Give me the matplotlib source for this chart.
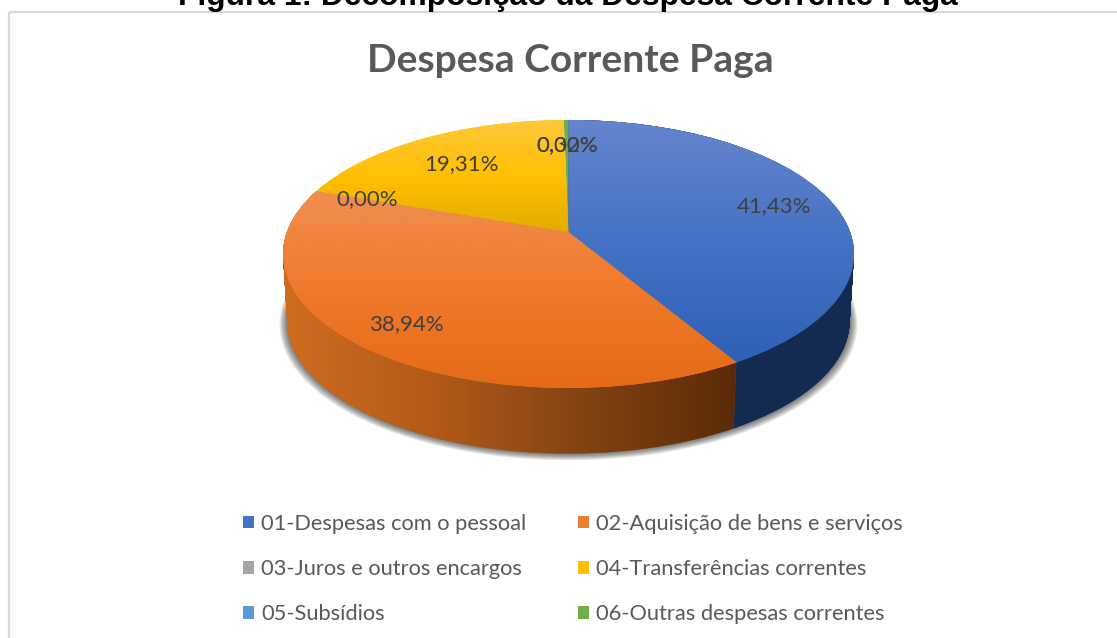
import numpy as np
import matplotlib
matplotlib.use('Agg')
import matplotlib.pyplot as plt
import matplotlib.transforms as mtransforms
from matplotlib.colors import LinearSegmentedColormap
from matplotlib.patches import Circle, Patch, PathPatch, Rectangle
from matplotlib.path import Path

# data
categories = ['01-Despesas com o pessoal', '02-Aquisição de bens e serviços',
              '03-Juros e outros encargos', '04-Transferências correntes',
              '05-Subsídios', '06-Outras despesas correntes']
values = [41.43, 38.94, 0.00, 19.31, 0.00, 0.32]
colors = ['#4472c4', '#ed7d31', '#a5a5a5', '#ffc000', '#5b9bd5', '#70ad47']

# where the percentages sit, in pixels
label_pos = [(774, 206), (406, 324), (367, 199), (461, 164), (567, 145), (567, 145)]

# vertical shading of the top face: (colours top to bottom, y range in pixels)
top_shades = {0: (['#6585cd', '#4472c4', '#2f60b6'], (120, 365)),
              1: (['#f08e52', '#f07a2a', '#e66a18'], (190, 388)),
              3: (['#ffc83c', '#ffc000', '#e4ac00'], (120, 232))}
# horizontal shading of the rim, left to right
side_shades = {0: ['#132a52', '#142b54'],
               1: ['#d06c20', '#b25a18', '#824212', '#5a2a08']}
side_base = {0: '#132a52', 1: '#a05416'}

# pie geometry in pixels
CX, CY = 568.5, 232
RX, RY = 281.6, 130.4
K = 0.164
DEPTH = 68
SHRINK = 0.985


class Tilt(mtransforms.Transform):
    # unit pie -> tilted pie in pixel coordinates
    input_dims = 2
    output_dims = 2
    is_affine = False

    def __init__(self, drop=0.0, scale=1.0):
        super().__init__()
        self.drop = drop
        self.scale = scale

    def transform_non_affine(self, values):
        values = np.asarray(values, dtype=float)
        u, v = values[:, 0], values[:, 1]
        w = 1 + K * v
        return np.column_stack([CX + self.scale * RX * u / w,
                                CY + self.drop - self.scale * RY * v / w])


def shade(colour_list, vertical=True):
    cmap = LinearSegmentedColormap.from_list('s', colour_list)
    ramp = np.linspace(0, 1, 256)
    return cmap(ramp[:, None] if vertical else ramp[None, :])


plt.rcParams['font.family'] = ['Lato', 'DejaVu Sans']
fig = plt.figure(figsize=(11.17, 6.38), dpi=100)
ax = fig.add_axes([0, 0, 1, 1])

wedges, _ = ax.pie(values, colors=colors, startangle=90, counterclock=False, radius=1)
top_tf = Tilt() + ax.transData
for w in wedges:
    w.set_transform(top_tf)
    w.set_zorder(5)
    w.set_linewidth(0)

# soft shadow under the rim
for i in range(6, 0, -1):
    ax.add_patch(Circle((0, 0), 1, transform=Tilt(DEPTH + i * 0.4, SHRINK + i * 0.0045) + ax.transData,
                        facecolor='black', edgecolor='none', alpha=0.1, zorder=1))

# rim: the wedge swept down through the depth of the pie
for order, idx in enumerate([0, 1]):
    layers = []
    for d in np.arange(0, DEPTH + 1, 1.0):
        tf = Tilt(d, 1 + (SHRINK - 1) * d / DEPTH)
        layers.append(tf.transform_path(wedges[idx].get_path()))
    rim = Path.make_compound_path(*layers)
    patch = PathPatch(rim, facecolor=side_base[idx], edgecolor='none',
                      transform=ax.transData, zorder=2 + order)
    ax.add_patch(patch)
    im = ax.imshow(shade(side_shades[idx], vertical=False), extent=(284, 738, 500, 100),
                   aspect='auto', zorder=2 + order, interpolation='bilinear')
    im.set_clip_path(patch)

# top face shading
for idx, (shades, (y0, y1)) in top_shades.items():
    im = ax.imshow(shade(shades), extent=(200, 900, y1, y0), aspect='auto',
                   zorder=5.5, interpolation='bilinear')
    im.set_clip_path(wedges[idx])

ax.set_aspect('auto')
ax.set_xlim(0, 1117)
ax.set_ylim(638, 0)
ax.axis('off')

# chart frame
ax.add_patch(Rectangle((8.5, 12), 1120, 640, facecolor='none', edgecolor='#d9d9d9', linewidth=1.6, zorder=0.5))

ax.text(568, 4.5, 'Figura 1: Decomposição da Despesa Corrente Paga', family='Liberation Sans',
        weight='bold', fontsize=22.9, color='black', ha='center', va='baseline')
ax.text(570, 61, 'Despesa Corrente Paga', fontsize=28.1, weight='bold', color='#595959',
        ha='center', va='center')

for v, (x, y) in zip(values, label_pos):
    ax.text(x, y, f'{v:.2f}'.replace('.', ',') + '%', fontsize=16, color='#404040',
            ha='center', va='center', zorder=8)

# legend fills by column, the picture reads by row
order = [0, 2, 4, 1, 3, 5]
handles = [Patch(facecolor=colors[i], label=categories[i]) for i in order]
ax.legend(handles=handles, ncol=2, loc='upper left', bbox_to_anchor=(243 / 1117, 1 - 514 / 638),
          frameon=False, fontsize=15.75, labelcolor='#595959', handlelength=0.5, handleheight=0.5,
          handletextpad=0.32, labelspacing=1.15, columnspacing=2.37, borderpad=0, borderaxespad=0)

fig.savefig('out.png', dpi=100)
